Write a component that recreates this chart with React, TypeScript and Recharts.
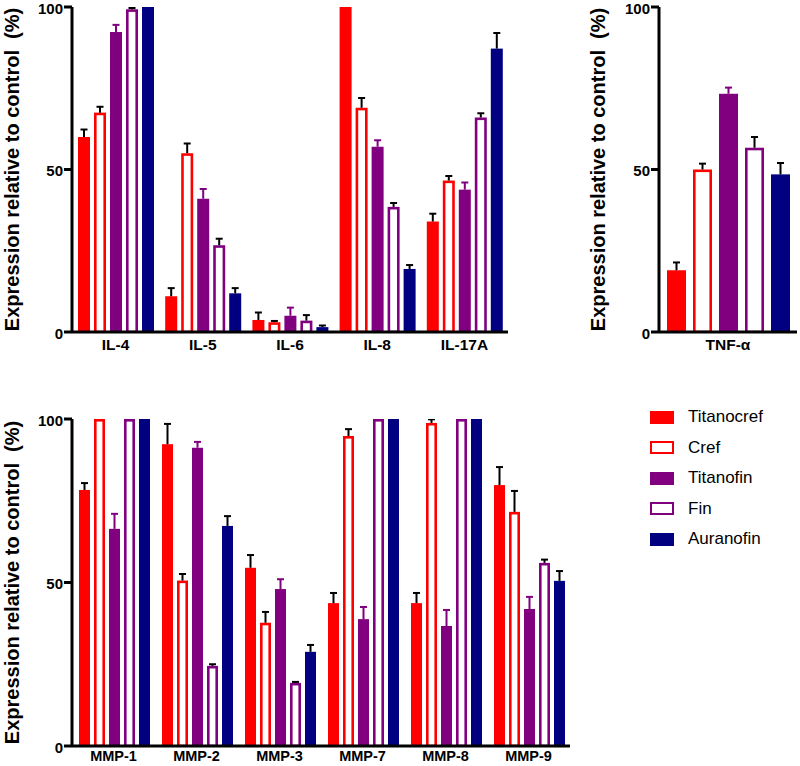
import { BarChart, Bar, XAxis, YAxis, Label } from "recharts"

const FONT = "Arial, 'Liberation Sans', Helvetica, sans-serif"

// cytokines
const cytokines = ["IL-4", "IL-5", "IL-6", "IL-8", "IL-17A"]
const cytTitanocref = [60, 11, 3.7, 100, 34]
const cytTitanocrefErr = [2.3, 2.5, 2.3, 0, 2.4]
const cytCref = [67.5, 55, 3, 69, 46.6]
const cytCrefErr = [1.8, 3, 0.4, 3, 1.4]
const cytTitanofin = [92.3, 41, 5, 57, 43.8]
const cytTitanofinErr = [2.2, 3, 2.5, 2, 2.2]
const cytFin = [99.3, 26.7, 3.5, 38.5, 66]
const cytFinErr = [0.4, 2, 1.7, 1.2, 1.3]
const cytAuranofin = [100, 11.9, 1.5, 19.4, 87.2]
const cytAuranofinErr = [0, 1.6, 0.5, 1.2, 4.8]

// TNF-alpha
const tnf = ["TNF-α"]
const tnfTitanocref = [19]
const tnfTitanocrefErr = [2.4]
const tnfCref = [50]
const tnfCrefErr = [1.8]
const tnfTitanofin = [73.3]
const tnfTitanofinErr = [1.9]
const tnfFin = [56.7]
const tnfFinErr = [3.3]
const tnfAuranofin = [48.5]
const tnfAuranofinErr = [3.5]

// MMPs
const mmps = ["MMP-1", "MMP-2", "MMP-3", "MMP-7", "MMP-8", "MMP-9"]
const mmpTitanocref = [78.3, 92.3, 54.5, 43.7, 43.7, 79.8]
const mmpTitanocrefErr = [2.1, 6.2, 3.9, 3.1, 3.1, 5.5]
const mmpCref = [100, 50.6, 37.7, 94.8, 98.8, 71.6]
const mmpCrefErr = [0, 2, 3.3, 2.1, 1.1, 6.4]
const mmpTitanofin = [66.4, 91.2, 48, 38.8, 36.7, 41.9]
const mmpTitanofinErr = [4.6, 1.8, 3, 3.7, 4.9, 3.7]
const mmpFin = [100, 24.5, 19.3, 100, 100, 56]
const mmpFinErr = [0, 0.5, 0.3, 0, 0, 1]
const mmpAuranofin = [100, 67.3, 28.8, 100, 100, 50.5]
const mmpAuranofinErr = [0, 3, 2.1, 0, 0, 3]

const yTicks = [0, 50, 100]

const series = [
  { key: "titanocref", name: "Titanocref", color: "#ff0000", hollow: false, err: "#000" },
  { key: "cref", name: "Cref", color: "#ff0000", hollow: true, err: "#000" },
  { key: "titanofin", name: "Titanofin", color: "#800080", hollow: false, err: "#800080" },
  { key: "fin", name: "Fin", color: "#800080", hollow: true, err: "#000" },
  { key: "auranofin", name: "Auranofin", color: "#000080", hollow: false, err: "#000" },
]

function rows(cats: string[], vals: number[][], errs: number[][]) {
  return cats.map((c, i) => {
    const r: any = { name: c }
    series.forEach((s, j) => {
      r[s.key] = vals[j][i]
      r[s.key + "Err"] = errs[j][i]
    })
    return r
  })
}

const cytData = rows(
  cytokines,
  [cytTitanocref, cytCref, cytTitanofin, cytFin, cytAuranofin],
  [cytTitanocrefErr, cytCrefErr, cytTitanofinErr, cytFinErr, cytAuranofinErr]
)
const tnfData = rows(
  tnf,
  [tnfTitanocref, tnfCref, tnfTitanofin, tnfFin, tnfAuranofin],
  [tnfTitanocrefErr, tnfCrefErr, tnfTitanofinErr, tnfFinErr, tnfAuranofinErr]
)
const mmpData = rows(
  mmps,
  [mmpTitanocref, mmpCref, mmpTitanofin, mmpFin, mmpAuranofin],
  [mmpTitanocrefErr, mmpCrefErr, mmpTitanofinErr, mmpFinErr, mmpAuranofinErr]
)

// bar + upper error whisker, whisker length taken from the bar's own pixel scale
function barShape(s: (typeof series)[number]) {
  return (props: any) => {
    const { x, y, width, height, payload } = props
    const v = payload[s.key]
    const e = payload[s.key + "Err"] || 0
    const ePx = v ? (e * height) / v : 0
    const cx = x + width / 2
    const sw = 2.6
    return (
      <g>
        {s.hollow ? (
          <rect
            x={x + sw / 2}
            y={y + sw / 2}
            width={Math.max(width - sw, 0)}
            height={Math.max(height - sw / 2, 0)}
            fill="#fff"
            stroke={s.color}
            strokeWidth={sw}
          />
        ) : (
          <rect x={x} y={y} width={width} height={height} fill={s.color} />
        )}
        {ePx > 0.6 && (
          <g stroke={s.err} strokeWidth={2}>
            <line x1={cx} x2={cx} y1={y} y2={y - ePx} />
            <line x1={cx - 3.5} x2={cx + 3.5} y1={y - ePx} y2={y - ePx} />
          </g>
        )}
      </g>
    )
  }
}

const yTickStyle = { fill: "#000", fontSize: 15, fontWeight: 700, fontFamily: FONT, dy: 1.5 }

function Panel({
  data,
  width,
  height,
  marginRight,
  yWidth,
  xHeight,
  xFont,
  xTickSize,
  labelDx,
  catGap,
  barGap,
}: {
  data: any[]
  width: number
  height: number
  marginRight: number
  yWidth: number
  xHeight: number
  xFont: number
  xTickSize: number
  labelDx: number
  catGap: number
  barGap: number
}) {
  return (
    <BarChart
      width={width}
      height={height}
      data={data}
      margin={{ top: 10, right: marginRight, left: 0, bottom: 0 }}
      barCategoryGap={catGap}
      barGap={barGap}
    >
      <XAxis
        dataKey="name"
        height={xHeight}
        tickLine={false}
        tickSize={xTickSize}
        tickMargin={1}
        axisLine={{ stroke: "#000", strokeWidth: 3 }}
        tick={{ fill: "#000", fontSize: xFont, fontWeight: 700, fontFamily: FONT }}
        interval={0}
      />
      <YAxis
        domain={[0, 100]}
        ticks={yTicks}
        interval={0}
        width={yWidth}
        tickSize={8}
        tickMargin={1}
        axisLine={{ stroke: "#000", strokeWidth: 3 }}
        tickLine={{ stroke: "#000", strokeWidth: 3 }}
        tick={yTickStyle}
        allowDataOverflow
      >
        <Label
          value={"Expression relative to control\u00a0\u00a0(%)"}
          angle={-90}
          position="center"
          dx={labelDx}
          style={{ fill: "#000", fontSize: 20, fontWeight: 700, fontFamily: FONT }}
        />
      </YAxis>
      {series.map((s) => (
        <Bar
          key={s.key}
          dataKey={s.key}
          name={s.name}
          fill={s.color}
          shape={barShape(s)}
          isAnimationActive={false}
        />
      ))}
    </BarChart>
  )
}

function LegendBox() {
  return (
    <div style={{ position: "absolute", left: 650, top: 402, fontFamily: FONT, fontSize: 17 }}>
      {series.map((s) => (
        <div key={s.key} style={{ display: "flex", alignItems: "center", height: 30.5 }}>
          <div
            style={{
              width: 24,
              height: 13,
              boxSizing: "border-box",
              background: s.hollow ? "#fff" : s.color,
              border: s.hollow ? `2.6px solid ${s.color}` : "none",
            }}
          />
          <span style={{ marginLeft: 14, color: "#000" }}>{s.name}</span>
        </div>
      ))}
    </div>
  )
}

export default function App() {
  return (
    <div style={{ position: "absolute", left: 0, top: 0, width: 800, height: 766, background: "#fff", overflow: "hidden" }}>
      <div style={{ position: "absolute", left: 0, top: -3 }}>
        <Panel data={cytData} width={520} height={363} marginRight={12} yWidth={72} xHeight={28} xFont={15.5} xTickSize={6} labelDx={-24.5} catGap={6} barGap={4} />
      </div>
      <div style={{ position: "absolute", left: 560, top: -3 }}>
        <Panel data={tnfData} width={240} height={363} marginRight={3} yWidth={99} xHeight={28} xFont={15.5} xTickSize={6} labelDx={-12} catGap={8} barGap={7} />
      </div>
      <div style={{ position: "absolute", left: 0, top: 409 }}>
        <Panel data={mmpData} width={580} height={357} marginRight={10} yWidth={72} xHeight={20} xFont={14.5} xTickSize={4} labelDx={-24.5} catGap={7} barGap={4} />
      </div>
      <LegendBox />
    </div>
  )
}
